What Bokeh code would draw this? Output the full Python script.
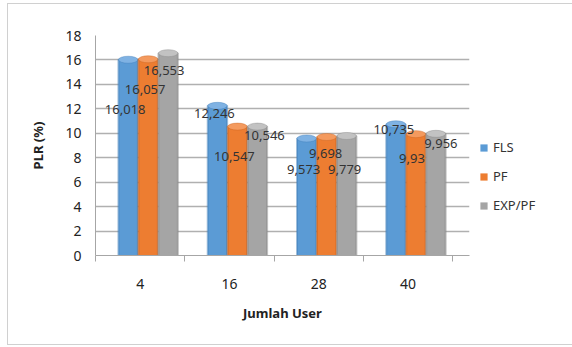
from bokeh.plotting import figure
from bokeh.models import (ColumnDataSource, FixedTicker, Legend, LegendItem, Range1d)
from bokeh.core.properties import value
from bokeh.embed import file_html
from bokeh.resources import INLINE

categories = ["4", "16", "28", "40"]
series_names = ["FLS", "PF", "EXP/PF"]
fls = [16.018, 12.246, 9.573, 10.735]
pf = [16.057, 10.547, 9.698, 9.93]
exp_pf = [16.553, 10.546, 9.779, 9.956]
label_fls = ["16,018", "12,246", "9,573", "10,735"]
label_pf = ["16,057", "10,547", "9,698", "9,93"]
label_exp = ["16,553", "10,546", "9,779", "9,956"]
y_ticks = [0, 2, 4, 6, 8, 10, 12, 14, 16, 18]

colors = ["#5B9BD5", "#ED7D31", "#A5A5A5"]
caps = ["#7FB2E3", "#F49A5E", "#C2C2C2"]
shade = ["#3F7DB8", "#C9621E", "#878787"]

# per-label pixel offsets (layout only)
dx = [[-3, -3, -3, -2], [-3, -3, -1, -4], [-4, 7, -2, 5]]
dy = [[50, 8, 31, 5], [30, 30, 17, 24], [17, 9, 34, 10]]

FONT = "Noto Sans"

p = figure(width=560, height=340, output_backend="svg", toolbar_location=None,
           x_range=Range1d(-0.5, 3.69), y_range=Range1d(0, 18),
           frame_width=374, frame_height=220,
           min_border_left=87, min_border_top=31, min_border_right=0,
           min_border_bottom=89, margin=(3, 0, 0, 7))
p.outline_line_color = None
p.background_fill_color = "white"
p.border_fill_color = "white"
p.styles = {"border": "1px solid #d0d0d0"}

bw = 0.224
shift = 0.09
all_vals = [fls, pf, exp_pf]
all_labels = [label_fls, label_pf, label_exp]
items = []
sources = []
for i, (name, vals) in enumerate(zip(series_names, all_vals)):
    xs = [k + shift + (i - 1) * bw for k in range(len(categories))]
    src = ColumnDataSource(dict(x=xs, top=vals, lab=all_labels[i],
                                dx=dx[i], dy=dy[i]))
    sources.append(src)
    r = p.vbar(x="x", top="top", bottom=0, width=bw * 0.97, source=src,
               fill_color=colors[i], line_color=None)
    p.vbar(x="x", top="top", bottom=0, width=bw * 0.97, source=src,
           fill_color=None, line_color=shade[i], line_width=2, line_alpha=0.5)
    p.ellipse(x="x", y="top", width=bw * 0.97, height=7, height_units="screen",
              source=src, fill_color=caps[i], line_color=shade[i], line_alpha=0.4)
    p.ellipse(x="x", y=0, width=bw * 0.97, height=6, height_units="screen",
              source=src, fill_color=colors[i], line_color=None)
    items.append(LegendItem(label=name, renderers=[r]))

for src in sources:
    p.text(x="x", y="top", text="lab", x_offset="dx", y_offset="dy", source=src,
           text_align="center", text_baseline="middle",
           text_font=value(FONT), text_font_size="13px", text_color="#333333")

legend = Legend(items=items, location=(10, 40), orientation="vertical",
                glyph_width=9, glyph_height=9, label_height=20, spacing=9,
                label_text_font=FONT, label_text_font_size="13px",
                label_text_color="#333333", border_line_color=None,
                background_fill_alpha=0, padding=0, margin=0,
                label_standoff=5, label_width=70)
p.add_layout(legend, "right")

# axes
p.xaxis.ticker = FixedTicker(ticks=[0, 1, 2, 3], minor_ticks=[-0.5, 0.5, 1.5, 2.5, 3.5])
p.xaxis.major_label_overrides = {k: c for k, c in enumerate(categories)}
p.xaxis.major_tick_line_color = None
p.xaxis.major_tick_out = 0
p.xaxis.major_tick_in = 0
p.xaxis.minor_tick_line_color = "#a6a6a6"
p.xaxis.minor_tick_out = 6
p.xaxis.minor_tick_in = 0
p.xaxis.major_label_standoff = 17
p.xaxis.axis_line_color = "#a6a6a6"
p.xaxis.axis_label = "Jumlah User"
p.xaxis.axis_label_standoff = 12
p.xaxis.axis_label_text_font = FONT
p.xaxis.axis_label_text_font_size = "13px"
p.xaxis.axis_label_text_font_style = "bold"
p.xaxis.axis_label_text_color = "#222222"
p.xaxis.major_label_text_font = FONT
p.xaxis.major_label_text_font_size = "14px"
p.xaxis.major_label_text_color = "#222222"

p.yaxis.ticker = FixedTicker(ticks=y_ticks)
p.yaxis.major_tick_line_color = None
p.yaxis.minor_tick_line_color = None
p.yaxis.major_tick_out = 0
p.yaxis.major_tick_in = 0
p.yaxis.major_label_standoff = 14
p.yaxis.axis_line_color = "#a6a6a6"
p.yaxis.axis_label = "PLR (%)"
p.yaxis.axis_label_standoff = 15
p.yaxis.axis_label_text_font = FONT
p.yaxis.axis_label_text_font_size = "13px"
p.yaxis.axis_label_text_font_style = "bold"
p.yaxis.axis_label_text_color = "#222222"
p.yaxis.major_label_text_font = FONT
p.yaxis.major_label_text_font_size = "14px"
p.yaxis.major_label_text_color = "#222222"

p.xgrid.grid_line_color = None
p.ygrid.grid_line_color = "#b0b0b0"
p.ygrid.grid_line_width = 1.5

open("out.html", "w").write(file_html(p, INLINE))
